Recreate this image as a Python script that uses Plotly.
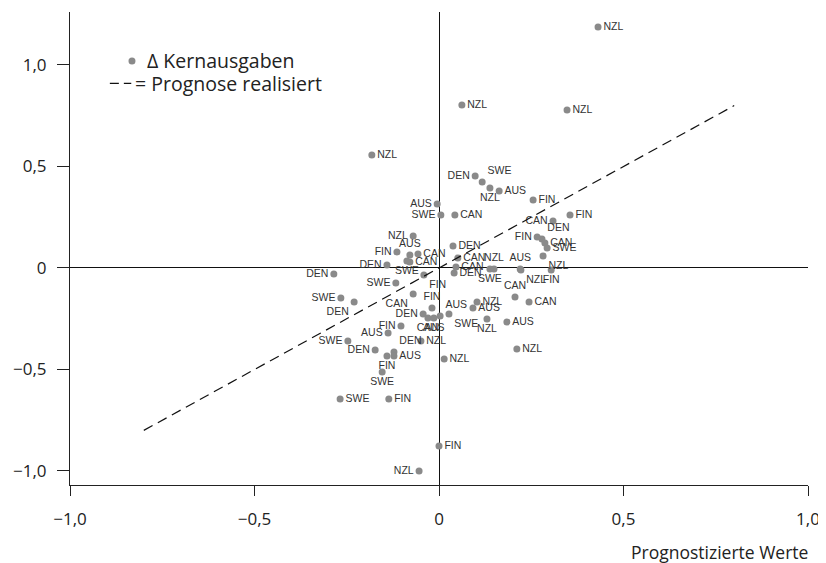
import plotly.graph_objects as go

# Data
countries = ["NZL", "NZL", "NZL", "NZL", "DEN", "SWE", "NZL", "AUS", "FIN", "AUS",
             "SWE", "CAN", "FIN", "CAN", "NZL", "FIN", "DEN", "CAN", "SWE", "FIN",
             "DEN", "AUS", "CAN", "CAN", "SWE", "DEN", "CAN", "CAN", "DEN", "NZL",
             "SWE", "NZL", "AUS", "NZL", "FIN", "DEN", "FIN", "SWE", "CAN", "CAN",
             "CAN", "SWE", "DEN", "NZL", "AUS", "FIN", "DEN", "CAN", "AUS", "AUS",
             "SWE", "NZL", "AUS", "FIN", "AUS", "SWE", "NZL", "NZL", "DEN", "DEN",
             "AUS", "FIN", "NZL", "SWE", "SWE", "FIN", "FIN", "NZL"]
prognose = [0.431, 0.062, 0.347, -0.182, 0.098, 0.117, 0.138, 0.163, 0.255, -0.005,
            0.005, 0.043, 0.355, 0.309, -0.070, 0.266, 0.279, 0.287, 0.293, -0.114,
            0.038, -0.079, -0.057, -0.079, -0.087, -0.141, 0.051, 0.046, 0.041, 0.282,
            0.138, 0.149, 0.220, 0.222, 0.304, -0.285, -0.041, -0.117, -0.070, 0.206,
            0.244, -0.266, -0.230, 0.103, 0.092, -0.019, -0.043, -0.030, -0.014, 0.003,
            0.027, 0.130, 0.184, -0.103, -0.138, -0.247, -0.049, 0.211, -0.173, -0.122,
            -0.122, -0.141, 0.014, -0.154, -0.268, -0.136, 0.000, -0.054]
kernausgaben = [1.187, 0.803, 0.778, 0.557, 0.453, 0.424, 0.394, 0.379, 0.335, 0.315,
                0.261, 0.261, 0.261, 0.232, 0.158, 0.153, 0.143, 0.123, 0.099, 0.079,
                0.108, 0.064, 0.069, 0.030, 0.034, 0.015, 0.049, 0.005, -0.025, 0.059,
                -0.005, -0.005, -0.005, -0.010, -0.010, -0.030, -0.034, -0.074, -0.128, -0.143,
                -0.167, -0.148, -0.167, -0.167, -0.197, -0.197, -0.227, -0.246, -0.246, -0.236,
                -0.227, -0.251, -0.266, -0.286, -0.320, -0.360, -0.360, -0.399, -0.404, -0.414,
                -0.433, -0.433, -0.448, -0.512, -0.645, -0.645, -0.877, -1.000]

# Label placement next to each point (style)
label_side = ["middle right", "middle right", "middle right", "middle right", "middle left",
              "top right", "bottom center", "middle right", "middle right", "middle left",
              "middle left", "middle right", "middle right", "middle left", "middle left",
              "middle left", "top right", "middle right", "middle right", "middle left",
              "middle right", "top center", "middle right", "middle right", "bottom center",
              "middle left", "middle right", "middle right", "middle right", "bottom right",
              "bottom center", "top center", "top center", "bottom right", "bottom center",
              "middle left", "bottom right", "middle left", "bottom left", "top center",
              "middle right", "middle left", "bottom left", "middle right", "middle right",
              "top center", "middle left", "bottom center", "bottom center", "top right",
              "bottom right", "bottom center", "middle right", "middle left", "middle left",
              "middle left", "middle right", "middle right", "middle left", "top right",
              "middle right", "bottom center", "middle right", "bottom center", "middle right",
              "middle right", "middle right", "middle left"]

diag = [-0.8, 0.8]
tick_vals = [-1.0, -0.5, 0.0, 0.5, 1.0]
tick_text = ["\u22121,0", "\u22120,5", "0", "0,5", "1,0"]
legend_labels = ["\u0394 Kernausgaben", "= Prognose realisiert"]

fig = go.Figure()
fig.add_trace(go.Scatter(
    x=prognose, y=kernausgaben, mode="markers+text",
    text=countries, textposition=label_side,
    textfont=dict(family="Liberation Sans, Arial", size=10.5, color="#333333"),
    marker=dict(color="#8a8a8a", size=7),
    name=legend_labels[0], cliponaxis=False, showlegend=False,
))
fig.add_trace(go.Scatter(
    x=diag, y=diag, mode="lines",
    line=dict(color="#111111", width=1.2, dash="10px,6px"),
    name=legend_labels[1], showlegend=False,
))

axis_common = dict(
    showgrid=False, showline=True, linecolor="#222222", linewidth=1.2,
    ticks="outside", tickcolor="#222222", tickwidth=1.2,
    zeroline=True, zerolinecolor="#111111", zerolinewidth=1.2,
    tickvals=tick_vals, ticktext=tick_text,
    tickfont=dict(family="Open Sans", size=17, color="#222222"),
)
fig.update_xaxes(range=[-1.0, 1.0], ticklen=10, ticklabelstandoff=8, **axis_common)
fig.update_yaxes(range=[-1.069, 1.261], ticklen=12, ticklabelstandoff=7, **axis_common)

fig.add_annotation(
    text="Prognostizierte Werte", xref="paper", yref="paper",
    x=1.003, y=-0.142, xanchor="right", yanchor="middle", showarrow=False,
    font=dict(family="Open Sans", size=17.5, color="#222222"),
)

# Legend drawn as small key
legend_font = dict(family="Open Sans", size=19.5, color="#222222")
fig.add_shape(type="circle", xref="paper", yref="paper", xsizemode="pixel", ysizemode="pixel",
              xanchor=0.084, yanchor=0.8965, x0=-3.5, x1=3.5, y0=-3.5, y1=3.5,
              fillcolor="#8a8a8a", line=dict(width=0))
fig.add_annotation(text=legend_labels[0], xref="paper", yref="paper", x=0.101, y=0.8965,
                   xanchor="left", yanchor="middle", showarrow=False, font=legend_font)
fig.add_shape(type="line", xref="paper", yref="paper", x0=0.054, x1=0.083, y0=0.849, y1=0.849,
              line=dict(color="#111111", width=1.2, dash="9px,5px"))
fig.add_annotation(text=legend_labels[1], xref="paper", yref="paper", x=0.086, y=0.849,
                   xanchor="left", yanchor="middle", showarrow=False, font=legend_font)

fig.update_layout(
    width=818, height=555,
    margin=dict(l=62, r=18, t=4, b=78),
    plot_bgcolor="white", paper_bgcolor="white",
    showlegend=False,
)

fig.write_html("out.html")
